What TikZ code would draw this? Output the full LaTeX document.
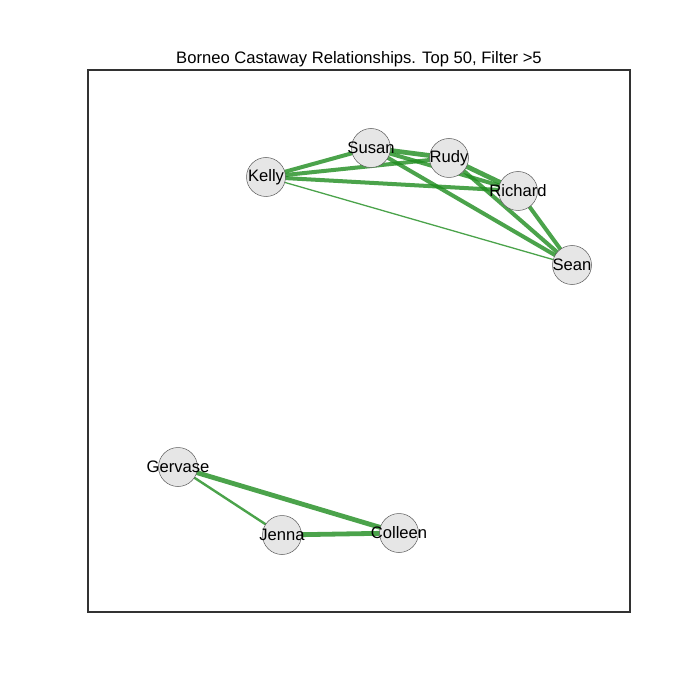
\documentclass[tikz,border=0pt]{standalone}
\usepackage{fontspec}
\setmainfont{Liberation Sans}
\usetikzlibrary{backgrounds}
\definecolor{edgegreen}{RGB}{30,140,30}
\definecolor{nodefill}{RGB}{230,230,230}
\definecolor{nodeline}{RGB}{90,90,90}
\definecolor{framegray}{RGB}{50,50,50}
% a name that does not widen its circle
\newcommand\castname[1]{\makebox[0pt]{#1}}
\tikzset{
  person/.style={circle, minimum size=39pt, inner sep=0pt, fill=nodefill,
    draw=nodeline, line width=0.5pt, font=\fontsize{16.6}{19}\selectfont},
  tie/.style={draw=edgegreen, draw opacity=0.8},
  tiethin/.style={tie, line width=1.3pt},
  tiemid/.style={tie, line width=2.4pt},
  tiethick/.style={tie, line width=4pt},
  tieheavy/.style={tie, line width=4.8pt},
}
\begin{document}
\begin{tikzpicture}[x=1pt, y=-1pt]
  \useasboundingbox (0,0) rectangle (700,700);
  \node[font=\fontsize{16.6}{19}\selectfont, anchor=base] (title) at (359,64)
    {Borneo Castaway Relationships. Top 50, Filter >5};
  \draw[framegray, line width=1.5pt] (88,70) rectangle (630,612);

  % castaways
  \node[person] (kelly)   at (266,177) {\castname{Kelly}};
  \node[person] (susan)   at (371,148) {\castname{Susan}};
  \node[person] (rudy)    at (449,158) {\castname{Rudy}};
  \node[person] (richard) at (518,191) {\castname{Richard}};
  \node[person] (sean)    at (572,265) {\castname{Sean}};
  \node[person] (gervase) at (178,467) {\castname{Gervase}};
  \node[person] (jenna)   at (282,535) {\castname{Jenna}};
  \node[person] (colleen) at (399,533) {\castname{Colleen}};

  % relationships, under the nodes
  \begin{scope}[on background layer]
    \draw[tiethick] (kelly.center) -- (susan.center);
    \draw[tiethick] (kelly.center) -- (rudy.center);
    \draw[tiethick] (kelly.center) -- (richard.center);
    \draw[tiethin]  (kelly.center) -- (sean.center);
    \draw[tieheavy] (susan.center) -- (rudy.center);
    \draw[tiethick] (susan.center) -- (richard.center);
    \draw[tiethick] (susan.center) -- (sean.center);
    \draw[tieheavy] (rudy.center) -- (richard.center);
    \draw[tiethick] (rudy.center) -- (sean.center);
    \draw[tiethick] (richard.center) -- (sean.center);
    \draw[tieheavy] (gervase.center) -- (colleen.center);
    \draw[tiemid]   (gervase.center) -- (jenna.center);
    \draw[tieheavy] (jenna.center) -- (colleen.center);
  \end{scope}
\end{tikzpicture}
\end{document}
